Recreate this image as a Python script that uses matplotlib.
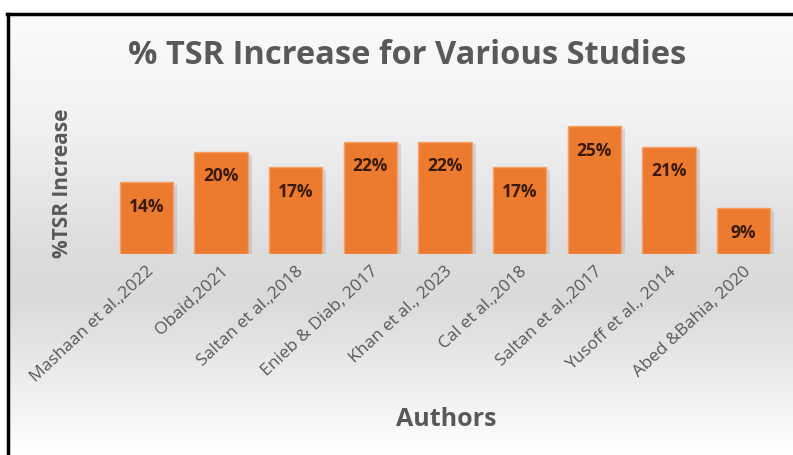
import matplotlib
matplotlib.use("Agg")
import matplotlib.pyplot as plt
import matplotlib.patheffects as pe
from matplotlib.colors import LinearSegmentedColormap
from matplotlib.lines import Line2D
import numpy as np

authors = ["Mashaan et al.,2022", "Obaid,2021", "Saltan et al.,2018",
           "Enieb & Diab, 2017", "Khan et al., 2023", "Cal et al.,2018",
           "Saltan et al.,2017", "Yusoff et al., 2014", "Abed &Bahia, 2020"]
tsr_increase = [14, 20, 17, 22, 22, 17, 25, 21, 9]

title = "% TSR Increase for Various Studies"
ylabel = "%TSR Increase"
xlabel = "Authors"

plt.rcParams['font.family'] = ['Open Sans', 'DejaVu Sans']
gray_text = '#595959'

fig = plt.figure(figsize=(7.93, 4.56), dpi=100)
fig.patch.set_facecolor('white')

# background gradient inside the frame
bg = fig.add_axes([9 / 793, 0, 1 - 9 / 793, 1 - 16 / 456], zorder=0)
bg_cmap = LinearSegmentedColormap.from_list(
    'bg', [(0.0, '#fbfbfb'), (0.25, '#f1f1f1'), (0.55, '#dcdcdc'),
           (0.65, '#dadada'), (0.85, '#efefef'), (1.0, '#ffffff')])
bg.imshow(np.linspace(0, 1, 256).reshape(-1, 1), aspect='auto', cmap=bg_cmap,
          extent=[0, 1, 1, 0])
bg.set_axis_off()

# frame lines (top and left)
fig.add_artist(Line2D([7 / 793, 1], [1 - 14.5 / 456, 1 - 14.5 / 456],
                      color='black', lw=2.5, transform=fig.transFigure))
fig.add_artist(Line2D([7.5 / 793, 7.5 / 793], [0, 1 - 14.5 / 456],
                      color='black', lw=2.5, transform=fig.transFigure))

ax = fig.add_axes([109 / 793, 1 - 255 / 456, 672 / 793, 138 / 456], zorder=1)
ax.patch.set_alpha(0)

x = np.arange(len(authors))
bars = ax.bar(x, tsr_increase, width=0.71, color='#ec7b2f',
              edgecolor='#f6a066', linewidth=1.0)
for b in bars:
    b.set_path_effects([pe.SimplePatchShadow(offset=(3, -2), shadow_rgbFace='#8a8a8a',
                                             alpha=0.25), pe.Normal()])

for xi, v in zip(x, tsr_increase):
    ax.annotate(f"{v}%", (xi, v), xytext=(0, -17), textcoords='offset points',
                ha='center', va='center', fontsize=12.5, fontweight='bold',
                color='#3a1a0c')

ax.set_xlim(-0.5, len(authors) - 0.5)
ax.set_ylim(0, 27)
ax.set_yticks([])
ax.set_xticks(x)
ax.set_xticklabels(authors, rotation=43, ha='right', rotation_mode='anchor',
                   fontsize=12.5, color=gray_text)
ax.tick_params(axis='x', length=0, pad=6)
for s in ax.spines.values():
    s.set_visible(False)

fig.text(407 / 793, 1 - 55 / 456, title, ha='center', va='center',
         fontsize=23.5, fontweight='bold', color=gray_text)
fig.text(62 / 793, 1 - 183 / 456, ylabel, ha='center', va='center', rotation=90,
         fontsize=15, fontweight='bold', color=gray_text)
fig.text(446 / 793, 1 - 420 / 456, xlabel, ha='center', va='center',
         fontsize=18, fontweight='bold', color=gray_text)

fig.savefig('out.png', dpi=100)
